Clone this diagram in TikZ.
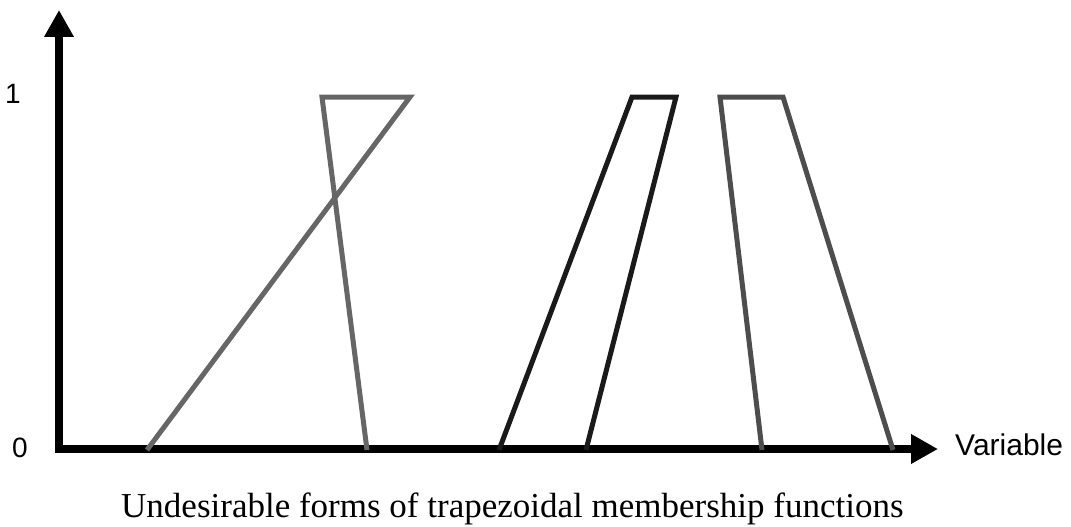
\documentclass[tikz,border=0pt]{standalone}
\usepackage{fontspec}
\setmainfont{Liberation Serif}
\newfontfamily\arialfont{Liberation Sans}
\usetikzlibrary{arrows.meta, positioning}

\definecolor{trigray}{HTML}{666666}
\definecolor{trapblack}{HTML}{1A1A1A}
\definecolor{trapgray}{HTML}{4D4D4D}

\tikzset{
    axis/.style={line width=8pt, {Triangle[length=27pt,width=28pt]}-{Triangle[length=27pt,width=28pt]}},
    member/.style={line width=5pt},
    ticklabel/.style={font=\arialfont\fontsize{28}{33}\selectfont, inner sep=0pt, anchor=base}
}

\begin{document}
\begin{tikzpicture}[x=1pt, y=-1pt]
                        \useasboundingbox (0, 0) rectangle (1071, 527);
                        \coordinate (ytip) at (59, 10);
                        \coordinate (origin) at (59, 449);
                        \coordinate (xtip) at (938, 449);
                        \node[ticklabel] (one) at (13, 103) {1};
                        \node[ticklabel] (zero) at (20, 457) {0};
                        \node[ticklabel, font=\arialfont\fontsize{30}{35}\selectfont, anchor=base west] (var) at (955, 455) {Variable};
                        \node[font=\fontsize{35}{40}\selectfont, inner sep=0pt, anchor=base west] (caption) at (121, 517)
                            {Undesirable forms of trapezoidal membership functions};
                        \draw[axis] (ytip) -- (origin) -- (xtip);
                        % crossed triangle
                        \draw[member, trigray]
                        (147, 450) -- (410, 97) -- (322, 97) -- (367, 450);
                        % trapezoids
                        \draw[member, trapblack]
                        (499, 450) -- (632, 97) -- (676, 97) -- (586, 450);
                        \draw[member, trapgray]
                        (762, 450) -- (720, 97) -- (783, 97) -- (893, 450);
                    \end{tikzpicture}
\end{document}
